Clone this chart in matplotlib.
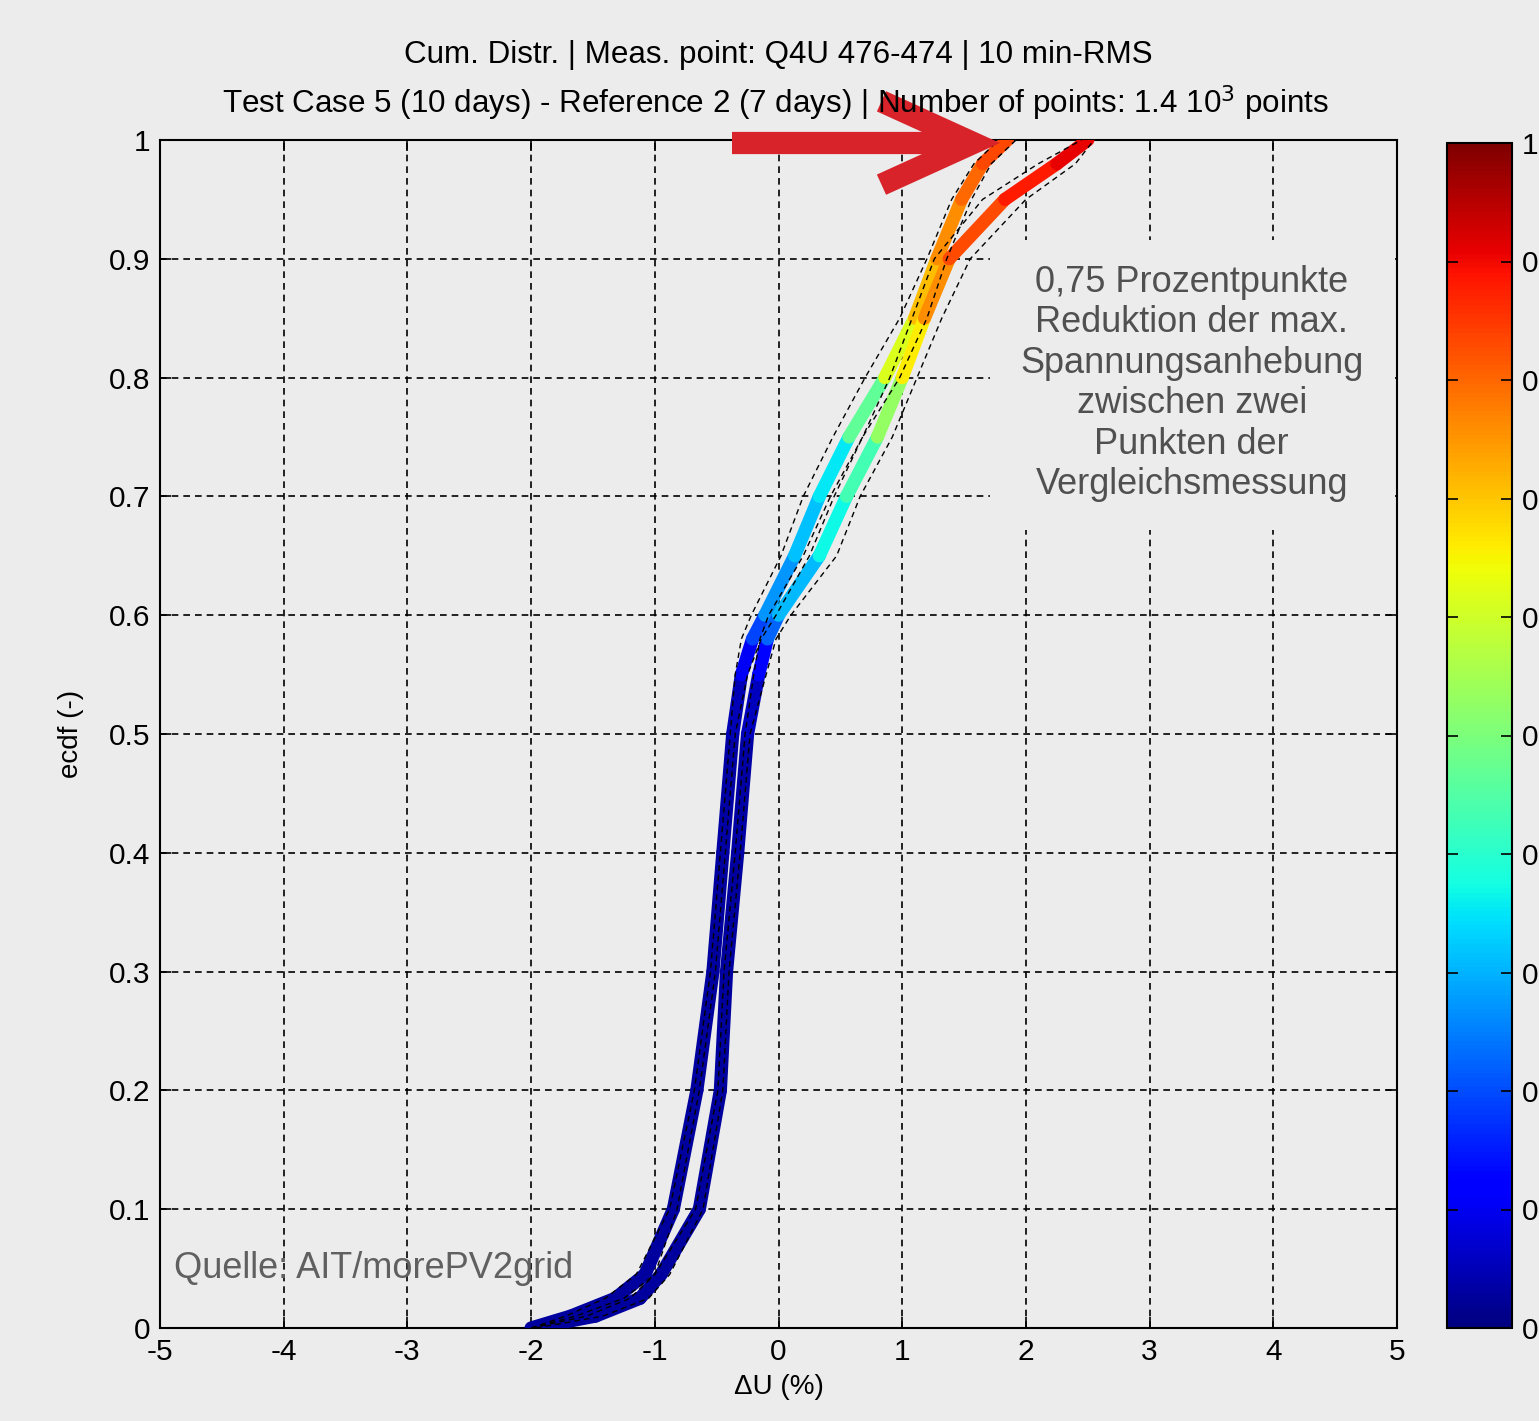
import numpy as np
import matplotlib
matplotlib.use("Agg")
import matplotlib.pyplot as plt
from matplotlib.collections import LineCollection
from matplotlib.patches import Rectangle
import matplotlib.colors as mcolors

# ---------------- data ----------------
ecdf_levels = [0, 0.01, 0.025, 0.045, 0.1, 0.2, 0.3, 0.4, 0.5, 0.55, 0.58,
               0.6, 0.65, 0.7, 0.75, 0.8, 0.85, 0.9, 0.95, 0.98, 1.0]

# Test Case 5 curve (left)
test_du = [-2.0, -1.68, -1.32, -1.08, -0.85, -0.66, -0.53, -0.45, -0.37, -0.30, -0.21,
           -0.11, 0.13, 0.33, 0.57, 0.86, 1.10, 1.28, 1.48, 1.65, 1.85]
test_lo = [-2.0, -1.72, -1.40, -1.15, -0.88, -0.68, -0.55, -0.47, -0.39, -0.35, -0.30,
           -0.22, 0.02, 0.20, 0.44, 0.70, 0.98, 1.20, 1.40, 1.58, 1.78]
test_hi = [-2.0, -1.64, -1.25, -1.00, -0.82, -0.64, -0.51, -0.43, -0.35, -0.25, -0.14,
           -0.02, 0.25, 0.45, 0.68, 0.98, 1.20, 1.36, 1.56, 1.72, 1.92]
test_col = [0.03, 0.03, 0.03, 0.03, 0.03, 0.03, 0.03, 0.03, 0.04, 0.06, 0.15,
            0.24, 0.30, 0.33, 0.38, 0.55, 0.68, 0.74, 0.78, 0.82, 0.85]

# Reference 2 curve (right)
ref_du = [-1.98, -1.48, -1.12, -0.95, -0.64, -0.47, -0.42, -0.33, -0.25, -0.16, -0.09,
          0.0, 0.33, 0.55, 0.80, 1.00, 1.18, 1.38, 1.83, 2.25, 2.50]
ref_lo = [-2.0, -1.55, -1.20, -1.00, -0.67, -0.49, -0.44, -0.35, -0.27, -0.20, -0.15,
          -0.08, 0.20, 0.42, 0.68, 0.90, 1.08, 1.26, 1.65, 2.10, 2.45]
ref_hi = [-1.96, -1.42, -1.05, -0.88, -0.61, -0.45, -0.40, -0.31, -0.23, -0.10, -0.02,
          0.10, 0.47, 0.66, 0.92, 1.12, 1.32, 1.55, 2.00, 2.40, 2.55]
ref_col = [0.03, 0.03, 0.03, 0.03, 0.03, 0.03, 0.03, 0.03, 0.04, 0.07, 0.18,
           0.27, 0.34, 0.40, 0.46, 0.60, 0.72, 0.80, 0.86, 0.90, 0.92]

x_ticks = [-5, -4, -3, -2, -1, 0, 1, 2, 3, 4, 5]
y_ticks = [0, 0.1, 0.2, 0.3, 0.4, 0.5, 0.6, 0.7, 0.8, 0.9, 1]
y_tick_labels = ['0', '0.1', '0.2', '0.3', '0.4', '0.5', '0.6', '0.7', '0.8', '0.9', '1']
cbar_ticks = [0, 0.1, 0.2, 0.3, 0.4, 0.5, 0.6, 0.7, 0.8, 0.9, 1]
cbar_tick_labels = ['0', '0.1', '0.2', '0.3', '0.4', '0.5', '0.6', '0.7', '0.8', '0.9', '1']

title_1 = "Cum. Distr. | Meas. point: Q4U 476-474 | 10 min-RMS"
title_2 = "Test Case 5 (10 days) - Reference 2 (7 days) | Number of points: 1.4 10$^3$ points"
note = ("0,75 Prozentpunkte\nReduktion der max.\nSpannungsanhebung\n"
        "zwischen zwei\nPunkten der\nVergleichsmessung")
source = "Quelle: AIT/morePV2grid"

# ---------------- figure ----------------
plt.rcParams['font.family'] = ['Liberation Sans', 'DejaVu Sans']
BG = '#ececec'
W, H = 1539, 1421
fig = plt.figure(figsize=(W / 100, H / 100), dpi=100, facecolor=BG)
ax = fig.add_axes([160 / W, 1 - 1328 / H, (1397 - 160) / W, (1328 - 140) / H])
ax.set_facecolor(BG)
ax.set_xlim(-5, 5)
ax.set_ylim(0, 1)
ax.set_axisbelow(True)

cmap = plt.get_cmap('jet')
norm = mcolors.Normalize(0, 1)

ax.grid(True, color='black', linestyle=(0, (4, 3)), linewidth=1.2)

# box behind the note that hides the grid
ax.add_patch(Rectangle((0.671, 0.672), 0.327, 0.244, transform=ax.transAxes,
                       facecolor=BG, edgecolor='none', zorder=1.5))

for du, col in [(test_du, test_col), (ref_du, ref_col)]:
    pts = np.column_stack([du, ecdf_levels])
    segs = np.stack([pts[:-1], pts[1:]], axis=1)
    cvals = 0.5 * (np.array(col[:-1]) + np.array(col[1:]))
    lc = LineCollection(segs, cmap=cmap, norm=norm, linewidths=9.5,
                        capstyle='round', joinstyle='round', zorder=3)
    lc.set_array(cvals)
    ax.add_collection(lc)

for lo, hi in [(test_lo, test_hi), (ref_lo, ref_hi)]:
    ax.plot(lo, ecdf_levels, color='black', linestyle=(0, (4, 3)), linewidth=1.0, zorder=4)
    ax.plot(hi, ecdf_levels, color='black', linestyle=(0, (4, 3)), linewidth=1.0, zorder=4)

ax.set_xticks(x_ticks)
ax.set_yticks(y_ticks)
ax.set_xticklabels([str(t) for t in x_ticks])
ax.set_yticklabels(y_tick_labels)
ax.tick_params(direction='in', length=8, width=1.2, top=True, right=True,
               labelsize=21.5, colors='black', pad=7)
for s in ax.spines.values():
    s.set_linewidth(1.5)

ax.set_xlabel("ΔU (%)", fontsize=20, labelpad=6)
ax.set_ylabel("ecdf (-)", fontsize=20, labelpad=18)

fig.text(778 / W, 1 - 55 / H, title_1, ha='center', va='center', fontsize=22.6)
fig.text(776 / W, 1 - 103 / H, title_2, ha='center', va='center', fontsize=22.6)

ax.text(0.834, 0.795, note, transform=ax.transAxes, ha='center', va='center',
        fontsize=26, color='#505050', linespacing=1.2, zorder=5)
ax.text(0.011, 0.05, source, transform=ax.transAxes, ha='left', va='center',
        fontsize=26, color='#606060', zorder=5)

# red arrow
ax.annotate('', xy=(1000, H - 143), xycoords='figure pixels',
            xytext=(732, H - 143), textcoords='figure pixels',
            arrowprops=dict(arrowstyle='->, head_length=66, head_width=30',
                            mutation_scale=1, color='#d9232b', lw=16,
                            capstyle='butt', joinstyle='miter',
                            shrinkA=0, shrinkB=0),
            annotation_clip=False, zorder=10)

# colorbar
cax = fig.add_axes([1447 / W, 1 - 1328 / H, 65 / W, (1328 - 143) / H])
sm = plt.cm.ScalarMappable(norm=norm, cmap=cmap)
cb = fig.colorbar(sm, cax=cax, ticks=cbar_ticks)
cb.ax.set_yticklabels(cbar_tick_labels)
cb.ax.tick_params(direction='in', length=8, width=1.2, left=True, right=True,
                  labelsize=21.5, pad=7)
cb.outline.set_linewidth(1.5)

fig.savefig('out.png', dpi=100, facecolor=BG)
